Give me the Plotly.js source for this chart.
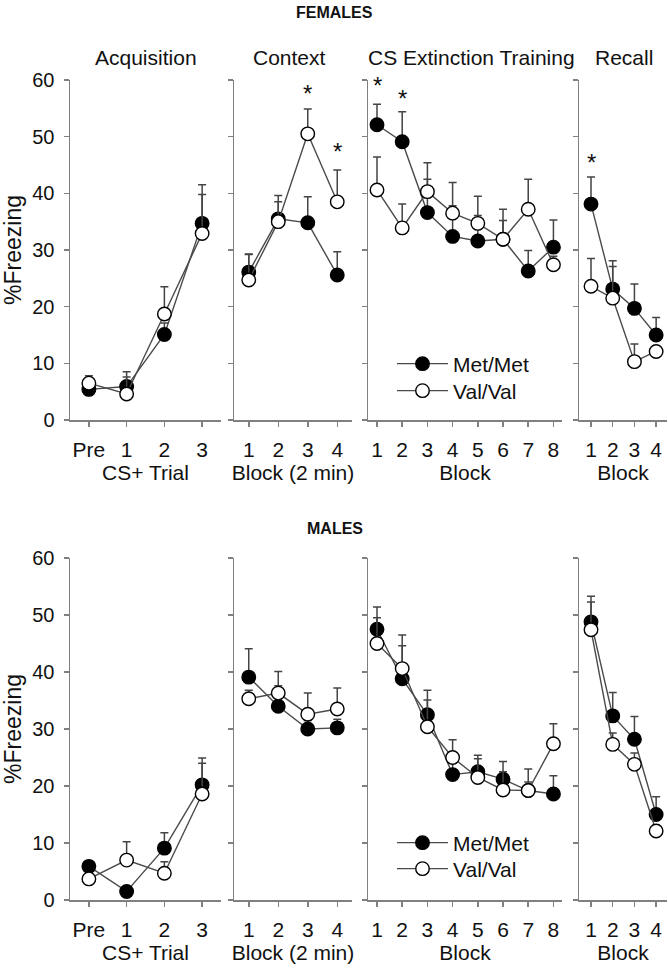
<!DOCTYPE html>
<html>
<head>
<meta charset="utf-8">
<script src="https://cdn.plot.ly/plotly-3.0.1.min.js"></script>
<style>html,body{margin:0;padding:0;background:#fff;}#chart{width:668px;height:973px;}</style>
</head>
<body>
<div id="chart"></div>
<script>
// ---------- DATA ----------
const acqX = [0, 1, 2, 3];
const acqLabels = ['Pre', '1', '2', '3'];
const ctxX = [1, 2, 3, 4];
const extX = [1, 2, 3, 4, 5, 6, 7, 8];
const recX = [1, 2, 3, 4];

// Females
const fAcqMet = [5.4, 5.9, 15.1, 34.7];
const fAcqMetSem = [1.4, 2.6, 2.0, 6.8];
const fAcqVal = [6.5, 4.6, 18.7, 32.9];
const fAcqValSem = [1.3, 3.0, 4.8, 6.9];

const fCtxMet = [26.1, 35.5, 34.8, 25.6];
const fCtxMetSem = [3.2, 4.1, 4.6, 4.1];
const fCtxVal = [24.7, 35.0, 50.5, 38.5];
const fCtxValSem = [4.5, 3.5, 4.4, 5.6];

const fExtMet = [52.1, 49.1, 36.6, 32.4, 31.6, 31.9, 26.3, 30.5];
const fExtMetSem = [3.6, 5.3, 5.9, 5.4, 4.5, 3.3, 3.6, 4.8];
const fExtVal = [40.6, 33.9, 40.3, 36.5, 34.7, 31.9, 37.2, 27.4];
const fExtValSem = [5.8, 4.2, 5.1, 5.4, 4.8, 5.3, 5.3, 1.5];

const fRecMet = [38.1, 23.1, 19.7, 15.0];
const fRecMetSem = [4.8, 5.0, 4.3, 3.1];
const fRecVal = [23.6, 21.5, 10.3, 12.1];
const fRecValSem = [4.9, 5.6, 3.1, 1.0];

// Males
const mAcqMet = [5.9, 1.5, 9.1, 20.2];
const mAcqMetSem = [1.0, 0.5, 2.7, 4.7];
const mAcqVal = [3.7, 7.0, 4.7, 18.6];
const mAcqValSem = [0.8, 3.2, 2.0, 5.4];

const mCtxMet = [39.1, 34.0, 30.0, 30.2];
const mCtxMetSem = [5.0, 3.6, 1.5, 1.5];
const mCtxVal = [35.3, 36.3, 32.6, 33.5];
const mCtxValSem = [1.5, 3.8, 3.7, 3.7];

const mExtMet = [47.5, 38.8, 32.5, 22.0, 22.5, 21.2, 19.2, 18.6];
const mExtMetSem = [3.9, 5.8, 4.3, 2.0, 2.9, 3.1, 3.8, 3.2];
const mExtVal = [45.0, 40.6, 30.4, 25.0, 21.5, 19.3, 19.2, 27.4];
const mExtValSem = [4.5, 5.9, 4.7, 3.1, 3.3, 3.2, 1.5, 3.5];

const mRecMet = [48.8, 32.3, 28.2, 15.0];
const mRecMetSem = [4.5, 4.1, 4.0, 3.1];
const mRecVal = [47.4, 27.3, 23.8, 12.1];
const mRecValSem = [4.9, 2.0, 2.0, 1.0];

// Significance stars (female): [panel axis index, x, y]
const starPanels = [2, 2, 3, 3, 4];
const starX = [3, 4, 1, 2, 1];
const starY = [58.5, 48.2, 60.0, 57.6, 46.4];

const panelTitles = ['Acquisition', 'Context', 'CS Extinction Training', 'Recall'];
const xTitles = ['CS+ Trial', 'Block (2 min)', 'Block', 'Block'];
const groupNames = ['Met/Met', 'Val/Val'];

// ---------- BUILD ----------
const FONT = 'Liberation Sans, Arial, sans-serif';
const AX = '#808080';
const W = 668, H = 973;
const px = v => v / W;
const py = v => 1 - v / H;

const xDomains = [[px(70), px(221)], [px(234), px(352)], [px(368), px(562)], [px(579), px(667)]];
const xRanges = [[-0.5, 3.5], [0.5, 4.5], [0.643, 8.34], [0.447, 4.5]];
const rowDomains = [[py(420), py(80)], [py(900), py(558)]];
const xVals = [acqX, ctxX, extX, recX];
// legend ids: [row][series]
const legendIds = [['legend', 'legend2'], ['legend3', 'legend4']];
const legendCenters = [[364, 391], [843, 869]];

const rows = [
  {met: [fAcqMet, fCtxMet, fExtMet, fRecMet], metSem: [fAcqMetSem, fCtxMetSem, fExtMetSem, fRecMetSem],
   val: [fAcqVal, fCtxVal, fExtVal, fRecVal], valSem: [fAcqValSem, fCtxValSem, fExtValSem, fRecValSem]},
  {met: [mAcqMet, mCtxMet, mExtMet, mRecMet], metSem: [mAcqMetSem, mCtxMetSem, mExtMetSem, mRecMetSem],
   val: [mAcqVal, mCtxVal, mExtVal, mRecVal], valSem: [mAcqValSem, mCtxValSem, mExtValSem, mRecValSem]}
];

const traces = [];
const layout = {
  width: W, height: H,
  margin: {l: 0, r: 0, t: 0, b: 0},
  paper_bgcolor: '#fff', plot_bgcolor: 'rgba(0,0,0,0)',
  font: {family: FONT, size: 21, color: '#111'},
  showlegend: true,
  annotations: []
};
legendIds.forEach((ids, r) => ids.forEach((id, s) => {
  layout[id] = {x: px(392), y: py(legendCenters[r][s]), xanchor: 'left', yanchor: 'middle',
    bgcolor: 'rgba(0,0,0,0)', font: {family: FONT, size: 21, color: '#111'}, itemwidth: 51};
}));

const zeros = n => new Array(n).fill(0);

rows.forEach((row, r) => {
  for (let p = 0; p < 4; p++) {
    const idx = r * 4 + p + 1;
    const xa = idx === 1 ? 'x' : 'x' + idx;
    const ya = idx === 1 ? 'y' : 'y' + idx;
    const xKey = idx === 1 ? 'xaxis' : 'xaxis' + idx;
    const yKey = idx === 1 ? 'yaxis' : 'yaxis' + idx;
    const xs = xVals[p];
    const showLeg = (p === 2);
    const series = [
      {y: row.met[p], e: row.metSem[p], fill: '#000', name: groupNames[0]},
      {y: row.val[p], e: row.valSem[p], fill: '#fff', name: groupNames[1]}
    ];
    series.forEach((s, si) => {
      traces.push({
        type: 'scatter', mode: 'lines+markers',
        x: xs, y: s.y, xaxis: xa, yaxis: ya,
        name: s.name, showlegend: showLeg, legend: legendIds[r][si],
        line: {color: '#4a4a4a', width: 1.4},
        marker: {size: 13.5, color: s.fill, line: {color: '#000', width: 1.4}},
        error_y: {type: 'data', symmetric: false, array: s.e, arrayminus: zeros(s.e.length),
                  color: '#444', thickness: 1.5, width: 4},
        cliponaxis: false, hoverinfo: 'skip'
      });
    });
    const xaxis = {
      domain: xDomains[p], range: xRanges[p], anchor: ya,
      showline: true, linecolor: AX, linewidth: 1.5, mirror: false,
      ticks: 'outside', ticklen: 5, tickwidth: 1.5, tickcolor: AX,
      showgrid: false, zeroline: false,
      tickvals: xs, ticktext: p === 0 ? acqLabels : xs.map(String),
      ticklabelstandoff: 5,
      tickfont: {family: FONT, size: 21, color: '#111'},
      title: {text: xTitles[p], font: {family: FONT, size: 21, color: '#111'}, standoff: 4}
    };
    const yaxis = {
      domain: rowDomains[r], range: [0, 60], anchor: xa,
      showline: true, linecolor: AX, linewidth: 1.5,
      ticks: 'outside', ticklen: 5, tickwidth: 1.5, tickcolor: AX,
      showgrid: false, zeroline: false,
      tickvals: [0, 10, 20, 30, 40, 50, 60],
      showticklabels: p === 0,
      ticklabelstandoff: 5,
      tickfont: {family: FONT, size: 20, color: '#111'}
    };
    if (p === 0) {
      yaxis.title = {text: '%Freezing', font: {family: FONT, size: 23, color: '#111'}, standoff: 4};
    }
    layout[xKey] = xaxis;
    layout[yKey] = yaxis;
  }
});

// panel titles (top row only)
const titleCenters = [146, 289, 471, 624];
panelTitles.forEach((t, i) => {
  layout.annotations.push({text: t, xref: 'paper', yref: 'paper', x: px(titleCenters[i]), y: py(57),
    xanchor: 'center', yanchor: 'middle', showarrow: false, font: {family: FONT, size: 21, color: '#111'}});
});
layout.annotations.push({text: '<b>FEMALES</b>', xref: 'paper', yref: 'paper', x: px(334), y: py(13),
  xanchor: 'center', yanchor: 'middle', showarrow: false, font: {family: FONT, size: 16, color: '#111'}});
layout.annotations.push({text: '<b>MALES</b>', xref: 'paper', yref: 'paper', x: px(335), y: py(528),
  xanchor: 'center', yanchor: 'middle', showarrow: false, font: {family: FONT, size: 16, color: '#111'}});

// significance stars
starPanels.forEach((pnl, i) => {
  layout.annotations.push({text: '*', xref: pnl === 1 ? 'x' : 'x' + pnl, yref: pnl === 1 ? 'y' : 'y' + pnl,
    x: starX[i], y: starY[i], xanchor: 'center', yanchor: 'middle', yshift: -5, showarrow: false,
    font: {family: FONT, size: 24, color: '#111'}});
});

Plotly.newPlot('chart', traces, layout, {staticPlot: true, displayModeBar: false});
</script>
</body>
</html>
